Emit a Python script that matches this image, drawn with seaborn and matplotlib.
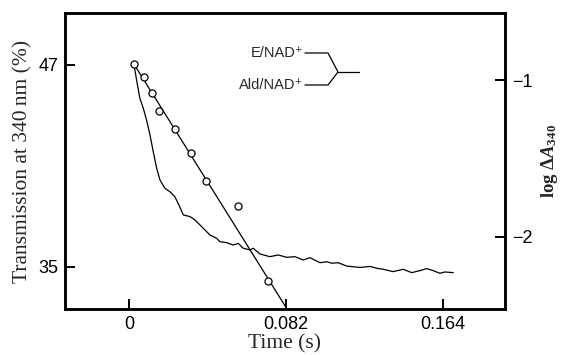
import matplotlib
matplotlib.use("Agg")
import matplotlib.pyplot as plt
import seaborn as sns
import pandas as pd

# ---- data ----
trace_t = [0.0026, 0.0040, 0.0057, 0.0075, 0.0092, 0.0110, 0.0127, 0.0145, 0.0162, 0.0188,
           0.0214, 0.0240, 0.0261, 0.0284, 0.0319, 0.0345, 0.0380, 0.0423, 0.0458, 0.0475,
           0.0510, 0.0545, 0.0571, 0.0597, 0.0632, 0.0649, 0.0684, 0.0736, 0.0780, 0.0824,
           0.0867, 0.0910, 0.0945, 0.0998, 0.1033, 0.1059, 0.1093, 0.1137, 0.1207, 0.1259,
           0.1294, 0.1328, 0.1380, 0.1433, 0.1477, 0.1520, 0.1555, 0.1589, 0.1624, 0.1650,
           0.1694]
trace_T = [47.04, 46.11, 45.02, 44.43, 43.73, 42.84, 41.85, 40.86, 40.17, 39.67,
           39.47, 39.17, 38.68, 38.09, 37.99, 37.79, 37.39, 36.90, 36.70, 36.50,
           36.44, 36.30, 36.40, 36.11, 36.01, 36.11, 35.77, 35.61, 35.71, 35.57,
           35.61, 35.41, 35.55, 35.25, 35.31, 35.22, 35.25, 35.05, 34.97, 35.03,
           34.92, 34.86, 34.72, 34.86, 34.66, 34.78, 34.90, 34.78, 34.62, 34.70,
           34.66]

pts_t = [0.0026, 0.0080, 0.0120, 0.0157, 0.0240, 0.0322, 0.0402, 0.0571, 0.0728]
pts_logA = [-0.898, -0.983, -1.081, -1.196, -1.314, -1.467, -1.641, -1.800, -2.280]

fit_t = [0.0026, 0.0823]
fit_logA = [-0.898, -2.454]

xticks = [0, 0.082, 0.164]
xtick_labels = ["0", "0.082", "0.164"]
left_ticks = [47, 35]
right_ticks = [-1, -2]
right_tick_labels = ["\u22121", "\u22122"]

trace_df = pd.DataFrame({"t": trace_t, "T": trace_T})
pts_df = pd.DataFrame({"t": pts_t, "logA": pts_logA})
fit_df = pd.DataFrame({"t": fit_t, "logA": fit_logA})

# ---- style ----
sns.set_style("ticks")
plt.rcParams["font.family"] = ["Liberation Sans", "DejaVu Sans"]
plt.rcParams["mathtext.fontset"] = "custom"
plt.rcParams["mathtext.rm"] = "Liberation Serif:bold"
plt.rcParams["mathtext.it"] = "Liberation Serif:bold:italic"
plt.rcParams["mathtext.bf"] = "Liberation Serif:bold"

fig = plt.figure(figsize=(5.64, 3.55), dpi=100)
ax = fig.add_axes([0.1152, 0.1296, 0.7802, 0.8338])
ax2 = ax.twinx()

sns.lineplot(data=trace_df, x="t", y="T", ax=ax, color="black", linewidth=0.9,
             sort=False, estimator=None)
sns.lineplot(data=fit_df, x="t", y="logA", ax=ax2, color="black", linewidth=0.9,
             sort=False, estimator=None, zorder=2)
sns.scatterplot(data=pts_df, x="t", y="logA", ax=ax2, marker="o", s=26,
                facecolor="white", edgecolor="black", linewidth=0.9, zorder=3)

ax.set_xlim(-0.0334, 0.1964)
ax.set_ylim(32.5, 50.09)
ax2.set_ylim(-2.459, -0.573)

ax.set_xticks(xticks)
ax.set_xticklabels(xtick_labels)
ax.set_yticks(left_ticks)
ax.set_yticklabels([str(v) for v in left_ticks])
ax2.set_yticks(right_ticks)
ax2.set_yticklabels(right_tick_labels)

for a in (ax, ax2):
    for s in a.spines.values():
        s.set_linewidth(1.8)
        s.set_color("black")
    a.tick_params(direction="in", length=7, width=1.4, labelsize=13, pad=5,
                  colors="black")

ax.set_xlabel("Time (s)", family="Liberation Serif", fontsize=15.5, labelpad=1)
ax.set_ylabel("Transmission at 340\u2009nm (%)", family="Liberation Serif",
              fontsize=15.5, labelpad=4)
ax2.set_ylabel("log \u0394$A_{340}$", family="Liberation Serif", fontweight="bold",
               fontsize=13.5, labelpad=5)

# annotation bracket (axes fraction coordinates)
def fx(px):
    return (px - 65) / 440.0

def fy(py):
    return (309 - py) / 296.0

tr = ax.transAxes
ax.plot([fx(305), fx(328), fx(338), fx(328), fx(305)],
        [fy(53), fy(53), fy(72), fy(85), fy(85)], transform=tr, color="black", lw=0.9)
ax.plot([fx(338), fx(359)], [fy(72), fy(72)], transform=tr, color="black", lw=0.9)
ax.text(fx(303), fy(53), "E/NAD\u207a", transform=tr, ha="right", va="center", fontsize=10.5)
ax.text(fx(303), fy(85), "Ald/NAD\u207a", transform=tr, ha="right", va="center", fontsize=10.5)

fig.savefig("out.png", dpi=100)
